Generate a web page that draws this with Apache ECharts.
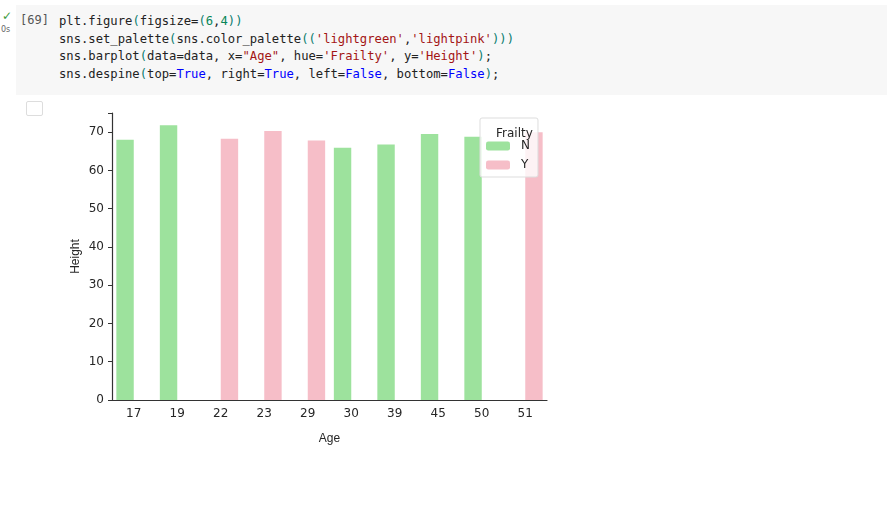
<!DOCTYPE html>
<html>
<head>
<meta charset="utf-8">
<script src="https://cdn.jsdelivr.net/npm/echarts@6/dist/echarts.min.js"></script>
<style>
  body { margin: 0; background: #fff; width: 887px; height: 505px; position: relative; overflow: hidden; font-family: "DejaVu Sans", sans-serif; }
  #cell { position: absolute; left: 16px; top: 5px; width: 871px; height: 90px; background: #f7f7f7; }
  #code { position: absolute; left: 59px; top: 13px; font-family: "DejaVu Sans Mono", monospace; font-size: 12.2px; line-height: 17.6px; color: #222; white-space: pre; }
  .p { color: #0a7c6e; } .s { color: #a31515; } .k { color: #0000ff; } .n { color: #098658; }
  #cnt { position: absolute; left: 20px; top: 13px; font-family: "DejaVu Sans Mono", monospace; font-size: 12px; color: #555; }
  #chk { position: absolute; left: 2px; top: 9px; color: #3c9a3c; font-size: 12px; }
  #secs { position: absolute; left: 1px; top: 25px; color: #666; font-size: 8px; }
  #outico { position: absolute; left: 26px; top: 101px; width: 15px; height: 13px; border: 1.5px solid #ddd; border-radius: 2px; }
  #chart { position: absolute; left: 0; top: 0; width: 887px; height: 505px; }
</style>
</head>
<body>
<div id="cell"></div>
<div id="chk">✓</div><div id="secs">0s</div>
<div id="cnt">[69]</div>
<div id="code">plt.figure<span class="p">(</span>figsize=<span class="p">(</span><span class="n">6</span>,<span class="n">4</span><span class="p">))</span>
sns.set_palette<span class="p">(</span>sns.color_palette<span class="p">((</span><span class="s">'lightgreen'</span>,<span class="s">'lightpink'</span><span class="p">)))</span>
sns.barplot<span class="p">(</span>data=data, x=<span class="s">"Age"</span>, hue=<span class="s">'Frailty'</span>, y=<span class="s">'Height'</span><span class="p">)</span>;
sns.despine<span class="p">(</span>top=<span class="k">True</span>, right=<span class="k">True</span>, left=<span class="k">False</span>, bottom=<span class="k">False</span><span class="p">)</span>;</div>
<div id="outico"></div>
<div id="chart"></div>
<script>
var ages = ['17', '19', '22', '23', '29', '30', '39', '45', '50', '51'];
var heightN = [68, 71.8, null, null, null, 65.9, 66.8, 69.5, 68.8, null];
var heightY = [null, null, 68.3, 70.3, 67.8, null, null, null, null, 70];
var yTicks = [0, 10, 20, 30, 40, 50, 60, 70];

var chart = echarts.init(document.getElementById('chart'));
var txt = '#262626';
chart.setOption({
  animation: false,
  grid: { left: 112, right: 340, top: 113, bottom: 105 },
  title: { text: 'Frailty', left: 491, top: 123, textStyle: { fontSize: 12, fontWeight: 'normal', color: txt, fontFamily: 'DejaVu Sans' } },
  legend: {
    orient: 'vertical', left: 480, top: 118, itemWidth: 24, itemHeight: 9, itemGap: 7,
    padding: [22, 8, 6, 6], backgroundColor: 'rgba(255,255,255,0.8)', borderColor: '#ddd', borderWidth: 1, borderRadius: 2,
    textStyle: { fontSize: 12, color: txt, fontFamily: 'DejaVu Sans', padding: [0, 0, 0, 6] },
    data: ['N', 'Y']
  },
  xAxis: {
    type: 'category', data: ages, name: 'Age', nameLocation: 'middle', nameGap: 33,
    nameTextStyle: { fontSize: 12, color: txt },
    axisLine: { lineStyle: { color: '#333', width: 1.2 } },
    axisTick: { alignWithLabel: true, length: 4, lineStyle: { color: '#333' } },
    axisLabel: { fontSize: 12, color: txt, margin: 8, fontFamily: 'DejaVu Sans' }
  },
  yAxis: {
    type: 'value', min: 0, max: 75, interval: 10, name: 'Height', nameLocation: 'middle', nameGap: 30,
    nameTextStyle: { fontSize: 12, color: txt },
    splitLine: { show: false },
    axisLine: { show: true, lineStyle: { color: '#333', width: 1.2 } },
    axisTick: { show: true, length: 4, lineStyle: { color: '#333' } },
    axisLabel: { fontSize: 12, color: txt, margin: 8, fontFamily: 'DejaVu Sans',
      formatter: function(v) { return yTicks.indexOf(v) >= 0 ? v : ''; } }
  },
  series: [
    { name: 'N', type: 'bar', data: heightN, barGap: '0%', barCategoryGap: '20%', itemStyle: { color: '#9de29d' } },
    { name: 'Y', type: 'bar', data: heightY, barGap: '0%', barCategoryGap: '20%', itemStyle: { color: '#f6bec8' } }
  ]
});
</script>
</body>
</html>
